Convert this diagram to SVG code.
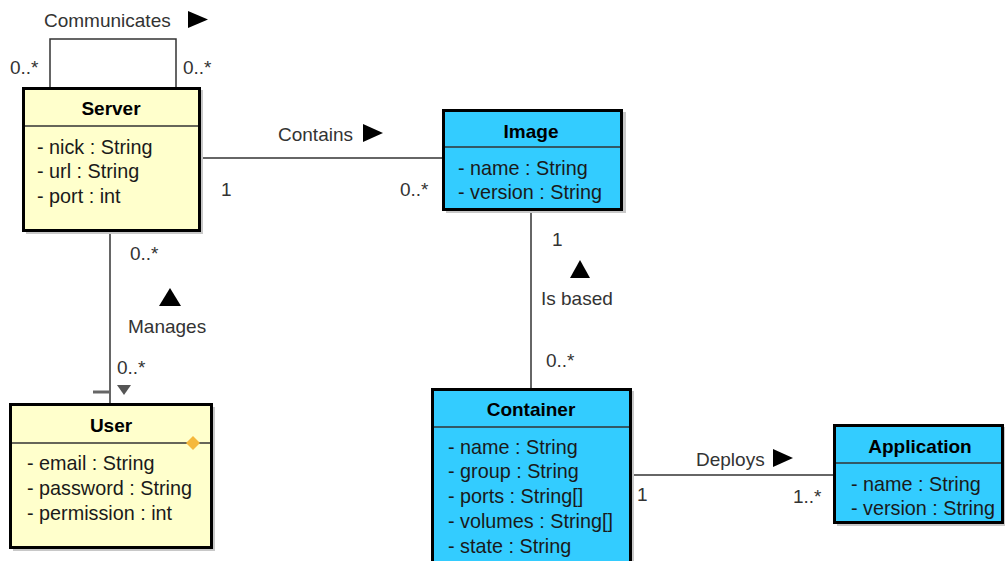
<svg xmlns="http://www.w3.org/2000/svg" width="1005" height="561" viewBox="0 0 1005 561">
<style>
text{font-family:"Liberation Sans",Arial,sans-serif;fill:#1a1a1a}
.t{font-size:19px;font-weight:bold;text-anchor:middle;fill:#000}
.a{font-size:19.8px}
.l{font-size:19px;fill:#333}
.box{stroke:#000;stroke-width:3}
.y{fill:#ffffcc}
.b{fill:#33ccff}
.sh{fill:#c8c8c8}
.div{stroke:#333;stroke-width:1.5}
.c{stroke:#333;stroke-width:1.5;fill:none}
.tri{fill:#000}
</style>
<rect width="1005" height="561" fill="#fff"/>
<g id="connectors">
<polyline class="c" points="50,87 50,39 176,39 176,87"/>
<line class="c" x1="200" y1="158" x2="443" y2="158"/>
<line class="c" x1="110" y1="231" x2="110" y2="404"/>
<line class="c" x1="531" y1="210" x2="531" y2="388"/>
<line class="c" x1="631" y1="475" x2="833" y2="475"/>
<text class="l" x="44" y="27">Communicates</text>
<polygon class="tri" points="188,11 208,19.5 188,28"/>
<text class="l" x="10" y="74">0..*</text>
<text class="l" x="183" y="74">0..*</text>
<text class="l" x="278" y="141">Contains</text>
<polygon class="tri" points="363,124 383,133 363,142"/>
<text class="l" x="221" y="196">1</text>
<text class="l" x="400" y="196">0..*</text>
<text class="l" x="130" y="260">0..*</text>
<polygon class="tri" points="159,306 170,288 181,306"/>
<text class="l" x="128" y="333">Manages</text>
<text class="l" x="117" y="374">0..*</text>
<line x1="93" y1="392" x2="110" y2="392" stroke="#666" stroke-width="3"/>
<polygon points="117,385 131,385 124,395" fill="#555"/>
<text class="l" x="552" y="246">1</text>
<polygon class="tri" points="570,278 580,260 590,278"/>
<text class="l" x="541" y="305">Is based</text>
<text class="l" x="546" y="367">0..*</text>
<text class="l" x="696" y="466">Deploys</text>
<polygon class="tri" points="773,449 793,458 773,467"/>
<text class="l" x="637" y="501">1</text>
<text class="l" x="793" y="503">1..*</text>
</g>
<g id="server">
<rect class="sh" x="26" y="90" width="177" height="144"/>
<rect class="box y" x="23.5" y="88.5" width="176" height="142"/>
<line class="div" x1="25" y1="126" x2="198" y2="126"/>
<text class="t" x="111" y="115">Server</text>
<text class="a" x="37" y="154">- nick : String</text>
<text class="a" x="37" y="178">- url : String</text>
<text class="a" x="37" y="203">- port : int</text>
</g>
<g id="image">
<rect class="sh" x="446" y="112" width="180" height="101"/>
<rect class="box b" x="443.5" y="110.5" width="178" height="99"/>
<line class="div" x1="445" y1="147" x2="620" y2="147"/>
<text class="t" x="531" y="138">Image</text>
<text class="a" x="458" y="175">- name : String</text>
<text class="a" x="458" y="199">- version : String</text>
</g>
<g id="user">
<rect class="sh" x="13" y="407" width="202" height="144"/>
<rect class="box y" x="10.5" y="404.5" width="201" height="143"/>
<line class="div" x1="12" y1="443" x2="210" y2="443"/>
<polygon points="186,443 193,436 200,443 193,450" fill="#f5b83c"/>
<text class="t" x="111" y="432">User</text>
<text class="a" x="27" y="470">- email : String</text>
<text class="a" x="27" y="495">- password : String</text>
<text class="a" x="27" y="520">- permission : int</text>
</g>
<g id="container">
<rect class="sh" x="435" y="391" width="199" height="180"/>
<rect class="box b" x="432.5" y="389.5" width="198" height="180"/>
<line class="div" x1="434" y1="427" x2="629" y2="427"/>
<text class="t" x="531" y="416">Container</text>
<text class="a" x="448" y="454">- name : String</text>
<text class="a" x="448" y="478">- group : String</text>
<text class="a" x="448" y="503">- ports : String[]</text>
<text class="a" x="448" y="528">- volumes : String[]</text>
<text class="a" x="448" y="553">- state : String</text>
</g>
<g id="application">
<rect class="sh" x="837" y="427" width="170" height="99"/>
<rect class="box b" x="834.5" y="425.5" width="168" height="97"/>
<line class="div" x1="836" y1="463" x2="1001" y2="463"/>
<text class="t" x="920" y="453">Application</text>
<text class="a" x="851" y="491">- name : String</text>
<text class="a" x="851" y="515">- version : String</text>
</g>
</svg>
